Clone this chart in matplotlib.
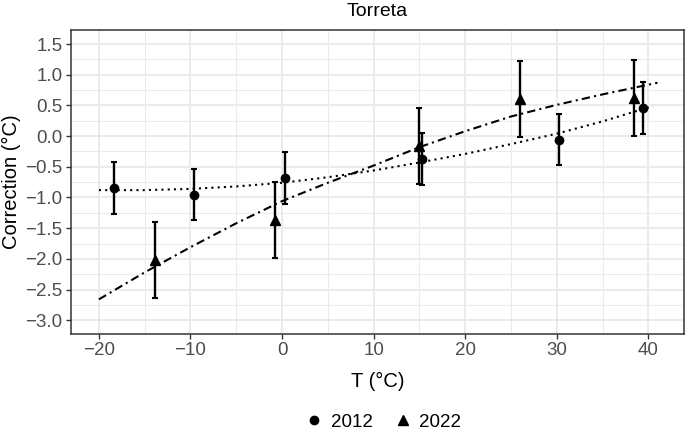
#!/usr/bin/env python3
"""Torreta correction vs temperature, 2012 and 2022 campaigns."""

import matplotlib

matplotlib.use("Agg")
import matplotlib.pyplot as plt
from matplotlib.lines import Line2D

plt.rcParams["font.family"] = ["Liberation Sans", "DejaVu Sans"]

# measured points (value +/- half error bar)
T_2012 = [-18.4, -9.6, 0.3, 15.3, 30.2, 39.4]
CORR_2012 = [-0.845, -0.955, -0.68, -0.375, -0.055, 0.46]
ERR_2012 = [0.42, 0.42, 0.42, 0.42, 0.42, 0.42]

T_2022 = [-13.9, -0.8, 15.0, 26.0, 38.4]
CORR_2022 = [-2.02, -1.36, -0.16, 0.61, 0.62]
ERR_2022 = [0.62, 0.62, 0.62, 0.62, 0.62]

# fitted curves
FIT_T_2012 = [-20, -15, -10, -5, 0, 5, 10, 15, 20, 25, 30, 35, 40.5]
FIT_2012 = [-0.88, -0.88, -0.86, -0.82, -0.76, -0.67, -0.56, -0.43, -0.29, -0.13, 0.04, 0.24, 0.49]
FIT_T_2022 = [-20, -15, -10, -5, 0, 5, 10, 15, 20, 25, 30, 35, 41]
FIT_2022 = [-2.66, -2.22, -1.81, -1.42, -1.06, -0.76, -0.48, -0.18, 0.08, 0.32, 0.51, 0.68, 0.87]

X_TICKS = [-20, -10, 0, 10, 20, 30, 40]
Y_TICKS = [-3.0, -2.5, -2.0, -1.5, -1.0, -0.5, 0.0, 0.5, 1.0, 1.5]

fig = plt.figure(figsize=(6.85, 4.3), dpi=100)
ax = fig.add_axes([71 / 685, 1 - 334 / 430, (684 - 71) / 685, (334 - 30.3) / 430])

grid_col = "#EBEBEB"
for x in range(-25, 50, 5):
    ax.axvline(x, color=grid_col, lw=1.4 if x % 10 == 0 else 0.75, zorder=0)
for i in range(-14, 8):
    y = i * 0.25
    ax.axhline(y, color=grid_col, lw=1.4 if i % 2 == 0 else 0.75, zorder=0)

ax.plot(FIT_T_2012, FIT_2012, color="black", lw=1.5, ls=(0, (1, 2)), zorder=2)
ax.plot(FIT_T_2022, FIT_2022, color="black", lw=1.5, ls=(0, (4, 2, 1, 2)), zorder=2)

ax.errorbar(T_2012, CORR_2012, yerr=ERR_2012, fmt="o", color="black", ms=6,
            elinewidth=1.7, capsize=2.3, capthick=1.5, zorder=3)
ax.errorbar(T_2022, CORR_2022, yerr=ERR_2022, fmt="^", color="black", ms=6.5,
            elinewidth=1.7, capsize=2.3, capthick=1.5, zorder=3)

ax.set_xlim(-23.05, 43.9)
ax.set_ylim(-3.225, 1.725)
ax.set_xticks(X_TICKS)
ax.set_xticklabels([f"{v}".replace("-", "\u2212") for v in X_TICKS])
ax.set_yticks(Y_TICKS)
ax.set_yticklabels([f"{v:.1f}".replace("-", "\u2212") for v in Y_TICKS])
ax.tick_params(colors="#333333", labelcolor="#4D4D4D", labelsize=13.5, length=3.5,
               width=1.0, pad=2.5)
for spine in ax.spines.values():
    spine.set_color("#333333")
    spine.set_linewidth(1.1)

fig.text(377.5 / 685, 1 - 12 / 430, "Torreta", ha="center", va="center", fontsize=14)
fig.text(377.5 / 685, 1 - 381 / 430, "T (°C)", ha="center", va="center", fontsize=14.5)
fig.text(11 / 685, 1 - 182 / 430, "Correction (°C)", ha="center", va="center",
         rotation=90, fontsize=14.5)

handles = [
    Line2D([], [], marker="o", ls="none", color="black", ms=6),
    Line2D([], [], marker="^", ls="none", color="black", ms=6.5),
]
fig.legend(handles, ["2012", "2022"], loc="center", ncol=2, frameon=False,
           bbox_to_anchor=(382 / 685, 1 - 422 / 430), fontsize=13.5,
           handletextpad=0.3, columnspacing=1.0, handlelength=1.2)

fig.savefig("out.png", dpi=100)
